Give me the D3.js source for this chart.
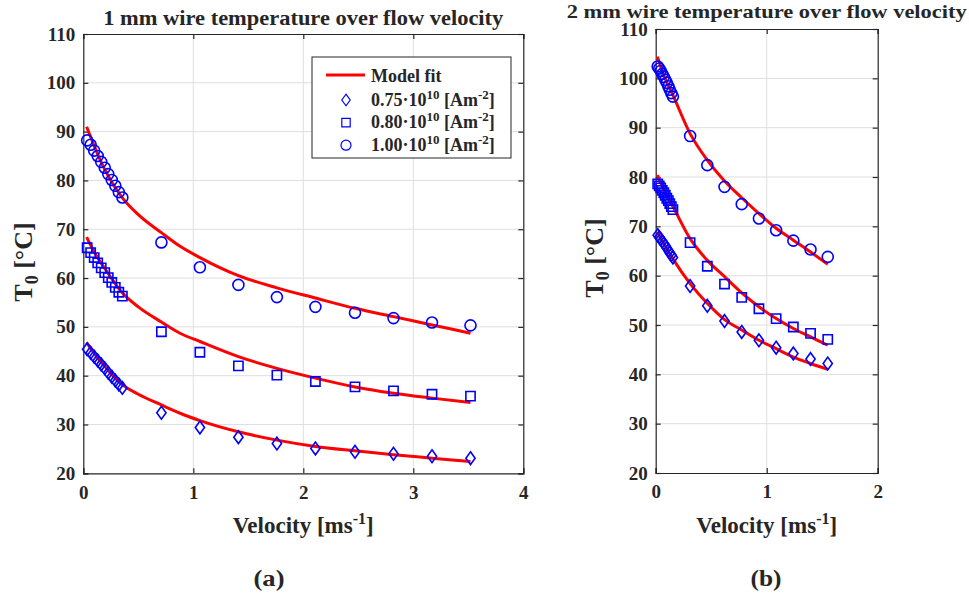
<!DOCTYPE html>
<html>
<head>
<meta charset="utf-8">
<script src="https://d3js.org/d3.v7.min.js"></script>
<style>
  body { margin: 0; background: #fff; }
  text { font-family: "Liberation Serif", "Times New Roman", serif; font-weight: bold; fill: #262626; }
</style>
</head>
<body>
<script>
// ---- panel (a): 1 mm wire ----
const velA = [0.035, 0.067, 0.099, 0.131, 0.163, 0.195, 0.227, 0.259, 0.291, 0.323, 0.355,
              0.71, 1.06, 1.41, 1.76, 2.11, 2.47, 2.82, 3.17, 3.52];
const circA = [88.2, 87.3, 86.1, 85.0, 83.8, 82.6, 81.3, 80.1, 78.9, 77.6, 76.5,
               67.3, 62.2, 58.6, 56.1, 54.1, 52.9, 51.8, 50.9, 50.3];
const sqA = [66.2, 65.2, 64.2, 63.1, 62.1, 61.1, 60.1, 59.1, 58.1, 57.1, 56.3,
             49.0, 44.8, 42.0, 40.1, 38.8, 37.7, 36.9, 36.2, 35.8];
const diaA = [45.4, 44.7, 43.9, 43.1, 42.3, 41.5, 40.6, 39.8, 39.0, 38.2, 37.5,
              32.4, 29.4, 27.4, 26.1, 25.1, 24.4, 24.0, 23.5, 23.1];
const fitVelA = [0.03, 0.1, 0.2, 0.35, 0.5, 0.71, 0.88, 1.06, 1.41, 1.76, 2.11, 2.47, 2.82, 3.17, 3.52];
const fitCircA = [91.0, 87.0, 82.0, 76.6, 73.0, 69.3, 66.5, 64.2, 60.5, 58.0, 55.9, 53.8, 52.1, 50.4, 48.7];
const fitSqA = [68.4, 65.3, 61.8, 57.1, 54.1, 51.0, 48.7, 47.0, 43.9, 41.5, 39.5, 37.7, 36.4, 35.4, 34.5];
const fitDiaA = [46.8, 44.6, 41.8, 38.2, 36.2, 34.0, 32.3, 30.8, 28.5, 26.8, 25.5, 24.6, 23.8, 23.1, 22.4];

// ---- panel (b): 2 mm wire ----
const velB = [0.018, 0.032, 0.045, 0.059, 0.073, 0.086, 0.100, 0.114, 0.127, 0.141, 0.155,
              0.31, 0.465, 0.62, 0.775, 0.93, 1.085, 1.24, 1.395, 1.55];
const circB = [102.4, 102.0, 101.5, 100.9, 100.3, 99.7, 99.1, 98.4, 97.7, 97.0, 96.3,
               88.3, 82.4, 78.0, 74.5, 71.6, 69.2, 67.1, 65.3, 63.8];
const sqB = [78.6, 78.2, 77.8, 77.3, 76.8, 76.3, 75.7, 75.2, 74.6, 74.0, 73.4,
             66.7, 61.9, 58.3, 55.6, 53.3, 51.3, 49.6, 48.3, 47.1];
const diaB = [68.2, 67.8, 67.4, 67.0, 66.5, 66.1, 65.6, 65.1, 64.6, 64.2, 63.7,
              57.9, 53.9, 50.8, 48.6, 46.9, 45.4, 44.2, 43.1, 42.2];
const fitVelB = [0.015, 0.08, 0.155, 0.31, 0.465, 0.62, 0.775, 0.93, 1.085, 1.24, 1.395, 1.55];
const fitCircB = [104.4, 100.2, 96.6, 88.8, 83.4, 79.2, 75.8, 72.6, 69.6, 67.2, 64.8, 62.3];
const fitSqB = [80.4, 77.0, 74.0, 67.5, 63.1, 59.8, 56.5, 53.7, 51.3, 49.3, 47.6, 45.9];
const fitDiaB = [68.8, 66.2, 63.4, 58.4, 54.4, 51.1, 49.0, 46.9, 45.2, 43.5, 42.2, 41.0];

const yTicks = [20, 30, 40, 50, 60, 70, 80, 90, 100, 110];
const xTicksA = [0, 1, 2, 3, 4];
const xTicksB = [0, 1, 2];
const legendLabels = ["0.75", "0.80", "1.00"];

const W = 969, H = 600;
const axisColor = "#262626", gridColor = "#dfdfdf", blue = "#0000ff", red = "#ff0000";
const serif = "'Liberation Serif', 'Times New Roman', serif";

const svg = d3.select("body").append("svg")
    .attr("width", W).attr("height", H);

function marker(type, s) {
    if (type === "circle") {
        const r = s / 2;
        return `M${-r},0A${r},${r} 0 1,0 ${r},0A${r},${r} 0 1,0 ${-r},0Z`;
    }
    if (type === "square") {
        const h = s * 0.42;
        return `M${-h},${-h}H${h}V${h}H${-h}Z`;
    }
    const hx = s * 0.42, hy = s * 0.58;
    return `M0,${-hy}L${hx},0L0,${hy}L${-hx},0Z`;
}

function panel(p) {
    const x = d3.scaleLinear().domain(p.xDomain).range([p.left, p.right]);
    const y = d3.scaleLinear().domain([20, 110]).range([p.bottom, p.top]);
    const g = svg.append("g");

    // grid
    g.append("g").selectAll("line").data(p.xTicks.slice(1, -1)).join("line")
        .attr("x1", d => x(d)).attr("x2", d => x(d))
        .attr("y1", p.top).attr("y2", p.bottom)
        .attr("stroke", gridColor).attr("stroke-width", 1);
    g.append("g").selectAll("line").data(yTicks.slice(1, -1)).join("line")
        .attr("y1", d => y(d)).attr("y2", d => y(d))
        .attr("x1", p.left).attr("x2", p.right)
        .attr("stroke", gridColor).attr("stroke-width", 1);

    // axes (ticks point inward)
    const ax = g.append("g").attr("transform", `translate(0,${p.bottom})`)
        .call(d3.axisBottom(x).tickValues(p.xTicks).tickSize(-5).tickPadding(12).tickFormat(d3.format("d")));
    const ay = g.append("g").attr("transform", `translate(${p.left},0)`)
        .call(d3.axisLeft(y).tickValues(yTicks).tickSize(-5).tickPadding(8));
    const at = g.append("g").attr("transform", `translate(0,${p.top})`)
        .call(d3.axisTop(x).tickValues(p.xTicks).tickSize(-5).tickFormat(""));
    const ar = g.append("g").attr("transform", `translate(${p.right},0)`)
        .call(d3.axisRight(y).tickValues(yTicks).tickSize(-5).tickFormat(""));
    [ax, ay, at, ar].forEach(a => {
        a.attr("font-family", serif);
        a.selectAll("path, line").attr("stroke", axisColor).attr("stroke-width", 1.2);
        a.selectAll("text").attr("font-size", 19).attr("fill", axisColor);
    });

    // fits
    const line = d3.line().x(d => x(d[0])).y(d => y(d[1])).curve(d3.curveMonotoneX);
    p.fits.forEach(f => {
        g.append("path").datum(d3.zip(p.fitVel, f))
            .attr("d", line).attr("fill", "none")
            .attr("stroke", red).attr("stroke-width", 3);
    });

    // markers
    p.series.forEach(s => {
        g.append("g").selectAll("path").data(d3.zip(p.vel, s.values)).join("path")
            .attr("transform", d => `translate(${x(d[0])},${y(d[1])})`)
            .attr("d", marker(s.type, s.size))
            .attr("fill", "none").attr("stroke", blue).attr("stroke-width", 1.6);
    });

    // title
    g.append("text").attr("x", (p.left + p.right) / 2).attr("y", p.titleY)
        .attr("text-anchor", "middle").attr("font-size", p.titleSize)
        .attr("textLength", 400).attr("lengthAdjust", "spacingAndGlyphs")
        .text(p.title);

    // x label
    const xl = g.append("text").attr("x", (p.left + p.right) / 2).attr("y", 533)
        .attr("text-anchor", "middle").attr("font-size", 23);
    xl.append("tspan").text("Velocity [ms");
    xl.append("tspan").attr("dy", -9).attr("font-size", 16).text("-1");
    xl.append("tspan").attr("dy", 9).text("]");

    // y label
    const yl = g.append("text")
        .attr("transform", `translate(${p.yLabelX},${p.yLabelY}) rotate(-90)`)
        .attr("text-anchor", "middle").attr("font-size", 26);
    yl.append("tspan").text("T");
    yl.append("tspan").attr("dy", 6).attr("font-size", 18).text("0");
    yl.append("tspan").attr("dy", -6).text(" [°C]");

    // panel letter
    g.append("text").attr("x", p.letterX).attr("y", 586)
        .attr("text-anchor", "middle").attr("font-size", 24)
        .attr("textLength", 31).attr("lengthAdjust", "spacingAndGlyphs")
        .text(p.letter);
}

panel({
    xDomain: [0, 4], xTicks: xTicksA, left: 83.3, right: 523.3, top: 34, bottom: 473.3,
    vel: velA, fitVel: fitVelA, fits: [fitCircA, fitSqA, fitDiaA],
    series: [{type: "diamond", size: 11, values: diaA},
             {type: "square", size: 11, values: sqA},
             {type: "circle", size: 11, values: circA}],
    title: "1 mm wire temperature over flow velocity", titleY: 25, titleSize: 20,
    yLabelX: 32, yLabelY: 262, letter: "(a)", letterX: 269
});

panel({
    xDomain: [0, 2], xTicks: xTicksB, left: 655.7, right: 877.7, top: 29, bottom: 473,
    vel: velB, fitVel: fitVelB, fits: [fitCircB, fitSqB, fitDiaB],
    series: [{type: "diamond", size: 11, values: diaB},
             {type: "square", size: 11, values: sqB},
             {type: "circle", size: 11, values: circB}],
    title: "2 mm wire temperature over flow velocity", titleY: 17.5, titleSize: 19,
    yLabelX: 603, yLabelY: 258, letter: "(b)", letterX: 766
});

// legend for panel (a)
const lg = svg.append("g");
lg.append("rect").attr("x", 312).attr("y", 57).attr("width", 199).attr("height", 101)
    .attr("fill", "#fff").attr("stroke", axisColor).attr("stroke-width", 1);
lg.append("line").attr("x1", 326).attr("x2", 365).attr("y1", 75).attr("y2", 75)
    .attr("stroke", red).attr("stroke-width", 3);
lg.append("text").attr("x", 371).attr("y", 82).attr("font-size", 18).text("Model fit");
const legendTypes = ["diamond", "square", "circle"];
legendLabels.forEach((lab, i) => {
    const cy = 100 + i * 22.6;
    lg.append("path").attr("transform", `translate(346,${cy})`)
        .attr("d", marker(legendTypes[i], 10))
        .attr("fill", "none").attr("stroke", blue).attr("stroke-width", 1.2);
    const t = lg.append("text").attr("x", 371).attr("y", cy + 5.5).attr("font-size", 18);
    t.append("tspan").text(lab + "·10");
    t.append("tspan").attr("dy", -7).attr("font-size", 13).text("10");
    t.append("tspan").attr("dy", 7).text(" [Am");
    t.append("tspan").attr("dy", -7).attr("font-size", 13).text("-2");
    t.append("tspan").attr("dy", 7).text("]");
});
</script>
</body>
</html>
